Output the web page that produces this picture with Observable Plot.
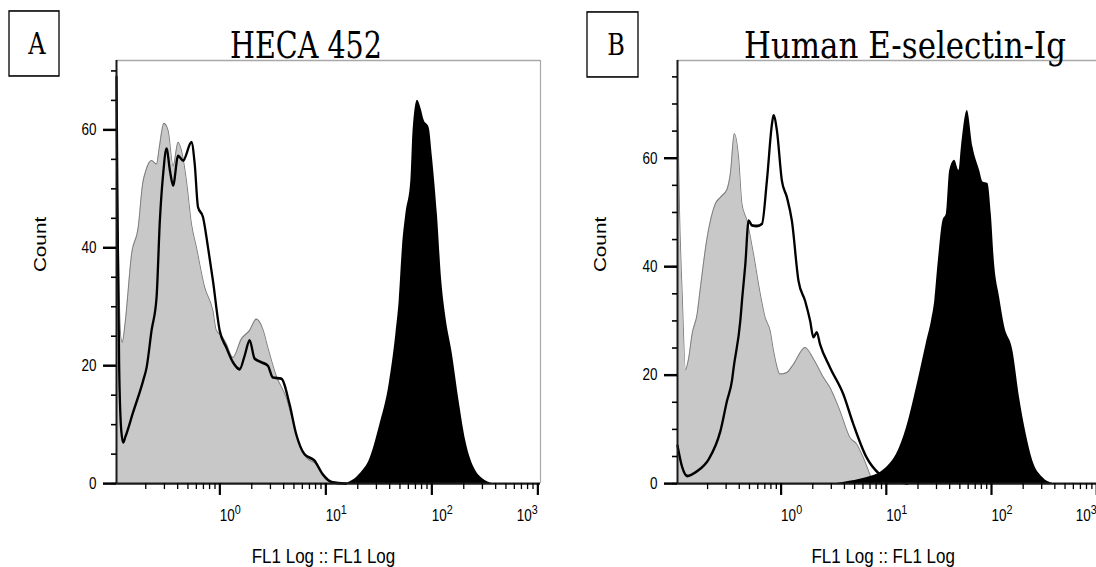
<!DOCTYPE html>
<html><head><meta charset="utf-8">
<script src="https://cdn.jsdelivr.net/npm/d3@7"></script>
<script src="https://cdn.jsdelivr.net/npm/@observablehq/plot@0.6"></script>
<style>
html,body{margin:0;padding:0;background:#fff;overflow:hidden;width:1096px;height:567px;}
#wrap{position:absolute;left:0;top:0;width:1096px;height:465px;transform:scaleY(1.2194);transform-origin:0 0;}
#pa,#pb{position:absolute;top:0;width:560px;height:465px;}
#pa{left:0;} #pb{left:560px;}
#wrap svg{max-width:none !important;}
#overlay{position:absolute;left:0;top:0;}
</style></head><body>
<div id="wrap"><div id="pa"></div><div id="pb"></div><svg id="overlay" width="1096" height="465"></svg></div>
<script>
// ---- text ----
const panelLetters = ["A", "B"];
const panelTitles = ["HECA 452", "Human E-selectin-Ig"];
const xLabel = "FL1 Log :: FL1 Log";
const yLabel = "Count";
const yTickValues = [0, 20, 40, 60];
const xMajorTicks = [1, 10, 100];
const xLastTick = [1000];

// ---- Panel A: HECA 452 (x = log10 FL1, y = count) ----
const hecaIsotypeLog = [-0.975,-0.965,-0.95,-0.935,-0.92,-0.895,-0.832,-0.77,-0.729,-0.698,-0.644,-0.597,-0.573,-0.528,-0.488,-0.441,-0.394,-0.362,-0.315,-0.268,-0.221,-0.143,-0.065,-0.033,0.02,0.061,0.123,0.202,0.281,0.344,0.406,0.453,0.532,0.626,0.72,0.814,0.908,1.002,1.127];
const hecaIsotypeCount = [69,50,33,25,24,27,39,43.5,50.8,53.1,54.8,54.2,56.8,61.1,59.9,53.9,57.9,56.5,51.4,44.1,40.1,33.3,29.3,26,25,23.7,21.4,24.5,26,27.9,26.2,23.1,18.3,14.6,8.4,4.5,3.3,0.8,0];
const hecaStainLog = [-0.975,-0.965,-0.95,-0.93,-0.912,-0.89,-0.82,-0.723,-0.691,-0.644,-0.597,-0.566,-0.535,-0.503,-0.47,-0.441,-0.394,-0.347,-0.268,-0.237,-0.206,-0.159,-0.112,-0.065,-0.002,0.061,0.123,0.187,0.234,0.281,0.328,0.391,0.453,0.5,0.579,0.657,0.72,0.798,0.892,0.97,1.064,1.19];
const hecaStainCount = [69,45,20,9,7,8,12,17.5,19.7,26,31.6,44.6,52.5,56.8,53,50.6,55.6,54.8,57.9,54.2,46.9,45.2,40.1,34.4,26,23.1,20.6,19.4,21.7,24.3,21.2,20.6,20,18,17.8,13.5,8.4,5,3.9,1.6,0.2,0];
const hecaPositiveLog = [1.19,1.25,1.33,1.409,1.504,1.598,1.661,1.692,1.723,1.755,1.802,1.823,1.864,1.9,1.927,1.974,2.005,2.052,2.093,2.13,2.193,2.256,2.319,2.413,2.48,2.569];
const hecaPositiveCount = [0,0.5,1.8,3.9,9.6,16.9,25.4,31,40.1,45.7,51.4,59.9,65,63.5,61.6,60.4,55.4,45.7,34.4,28.5,22,14.1,7.3,2.2,0.8,0];

// ---- Panel B: Human E-selectin-Ig ----
const eselIsotypeLog = [-0.985,-0.965,-0.94,-0.909,-0.88,-0.846,-0.798,-0.767,-0.703,-0.625,-0.577,-0.514,-0.483,-0.445,-0.404,-0.372,-0.324,-0.262,-0.198,-0.151,-0.104,-0.072,-0.009,0.055,0.117,0.228,0.307,0.402,0.465,0.56,0.655,0.718,0.781,0.844,0.876,0.92];
const eselIsotypeCount = [72,50,35,21,23,27.6,31.3,36.2,45.4,51.6,52.8,54.3,57.1,64.5,60.2,51.6,48.5,42.3,35,30.6,28.2,24.5,20.2,20.5,22,25.1,23,19.6,17.7,13.4,8.5,7.3,4.8,1.7,0.2,0];
const eselStainLog = [-0.985,-0.94,-0.893,-0.798,-0.688,-0.577,-0.514,-0.467,-0.451,-0.388,-0.372,-0.34,-0.309,-0.277,-0.23,-0.182,-0.135,-0.087,-0.072,-0.04,0.007,0.055,0.102,0.165,0.228,0.276,0.307,0.339,0.37,0.465,0.591,0.686,0.813,0.923,1.003,1.1,1.2];
const eselStainCount = [7,3,1.4,2.3,4.5,9.7,15.3,19,21.4,30,33.7,40.5,48.5,47.6,47.5,47.9,55.9,66.3,67.9,65.1,55.9,52.8,48.5,37.4,33.7,30,27,27.9,25.7,21.4,16.5,11,4.8,2,1.1,0.5,0];
const eselPositiveLog = [0.529,0.65,0.75,0.85,0.939,1.02,1.097,1.192,1.287,1.382,1.43,1.461,1.492,1.539,1.571,1.603,1.65,1.691,1.714,1.77,1.824,1.887,1.918,1.966,1.998,2.029,2.077,2.124,2.203,2.266,2.33,2.392,2.487,2.582];
const eselPositiveCount = [0,0.4,0.8,1.3,2,3.3,5.4,10.3,17.7,26,30,33.7,40.5,48.5,49.7,57.7,59.6,57.7,62,68.8,62,57.7,55.6,55.3,49.7,40.5,34.3,29,24.5,15.9,9.1,4.2,1.1,0];

const rows = (logs, counts) => logs.map((e, i) => ({fl1: 10 ** e, count: counts[i]}));

function panel(cfg) {
  const iso = rows(cfg.isoLog, cfg.isoCount);
  const stain = rows(cfg.stainLog, cfg.stainCount);
  const pos = rows(cfg.posLog, cfg.posCount);
  const x0 = 10 ** cfg.xDom[0], x1 = 10 ** cfg.xDom[1];
  const minor = [];
  for (let k = -1; k <= 2; k++) for (let m = 2; m <= 9; m++) { const v = m * 10 ** k; if (v > x0 && v < x1) minor.push(v); }
  const fmt = d => `10^${Math.round(Math.log10(d))}`;
  const svg = Plot.plot({
    width: 560, height: 465,
    marginLeft: cfg.mLeft, marginRight: cfg.mRight, marginTop: 49.2, marginBottom: 68.9,
    x: {type: "log", domain: [x0, x1]},
    y: {domain: [0, cfg.yMax]},
    style: {background: "transparent", color: "#000", fontFamily: "'Liberation Sans', Arial, sans-serif", fontSize: "13.5px", maxWidth: "none"},
    marks: [
      Plot.areaY(iso, {x: "fl1", y: "count", fill: "#c8c8c8", curve: "monotone-x"}),
      Plot.lineY(iso, {x: "fl1", y: "count", stroke: "#7a7a7a", strokeWidth: 0.9, curve: "monotone-x"}),
      Plot.areaY(pos, {x: "fl1", y: "count", fill: "#000", curve: "monotone-x"}),
      Plot.lineY(stain, {x: "fl1", y: "count", stroke: "#000", strokeWidth: 2.3, curve: "monotone-x"}),
      Plot.ruleY([cfg.yMax], {stroke: "#a8a8a8", strokeWidth: 1.2}),
      Plot.ruleX([x1], {stroke: "#a8a8a8", strokeWidth: 1.2}),
      Plot.ruleX([x0], {stroke: "#1a1a1a", strokeWidth: 2}),
      Plot.ruleY([0], {stroke: "#1a1a1a", strokeWidth: 1.7}),
      Plot.axisY({ticks: d3.range(0, cfg.yMax, 5), tickSize: 5, tickFormat: () => "", strokeWidth: 1.3, label: null}),
      Plot.axisY({ticks: yTickValues, tickSize: 13, tickPadding: 7, strokeWidth: 2, label: null}),
      Plot.axisX({ticks: minor, tickSize: 5, tickFormat: () => "", strokeWidth: 1.3, label: null}),
      Plot.axisX({ticks: xMajorTicks, tickSize: 9.8, tickPadding: 11, strokeWidth: 2.2, textAnchor: "start", tickFormat: fmt, label: null}),
      Plot.axisX({ticks: xLastTick, tickSize: 9.8, tickPadding: 11, strokeWidth: 2.2, textAnchor: "end", tickFormat: fmt, label: null}),
      Plot.text([yLabel], {text: d => d, frameAnchor: "left", dx: cfg.yLabelDx, rotate: -90, fontSize: 17}),
      Plot.text([xLabel], {text: d => d, frameAnchor: "bottom", dy: 60, dx: -5, lineAnchor: "middle", fontSize: 17})
    ]
  });
  d3.select(svg).selectAll("text").each(function () {
    const m = /^10\^(-?\d+)$/.exec(this.textContent);
    if (m) {
      const s = d3.select(this);
      s.text("10");
      s.append("tspan").attr("dy", "-0.5em").attr("font-size", "0.8em").text(m[1]);
    }
  });
  return svg;
}

document.getElementById("pa").append(panel({
  isoLog: hecaIsotypeLog, isoCount: hecaIsotypeCount,
  stainLog: hecaStainLog, stainCount: hecaStainCount,
  posLog: hecaPositiveLog, posCount: hecaPositiveCount,
  xDom: [-0.975, 3.025], yMax: 71.75, mLeft: 116, mRight: 20, yLabelDx: -76
}));
document.getElementById("pb").append(panel({
  isoLog: eselIsotypeLog, isoCount: eselIsotypeCount,
  stainLog: eselStainLog, stainCount: eselStainCount,
  posLog: eselPositiveLog, posCount: eselPositiveCount,
  xDom: [-0.985, 3.02], yMax: 78, mLeft: 117, mRight: 21.7, yLabelDx: -77
}));

// ---- panel letters in boxes and titles ----
const ov = d3.select("#overlay");
const boxes = [{x: 9, y: 9.0, w: 50, h: 53.3, lx: 37, ly: 44.3}, {x: 587, y: 9.8, w: 51, h: 53.3, lx: 616, ly: 45.5}];
boxes.forEach((b, i) => {
  ov.append("rect").attr("x", b.x).attr("y", b.y).attr("width", b.w).attr("height", b.h)
    .attr("fill", "none").attr("stroke", "#000").attr("stroke-width", 1.3);
  ov.append("text").attr("x", b.lx).attr("y", b.ly).attr("text-anchor", "middle")
    .attr("font-family", "'DejaVu Serif', serif").attr("font-size", 24).text(panelLetters[i]);
});
const titlePos = [{cx: 306, w: 152}, {cx: 905, w: 322}];
titlePos.forEach((t, i) => {
  ov.append("text").attr("x", t.cx - t.w / 2).attr("y", 47.6)
    .attr("font-family", "'DejaVu Serif', serif").attr("font-size", 30)
    .attr("textLength", t.w).attr("lengthAdjust", "spacingAndGlyphs").text(panelTitles[i]);
});
</script>
</body></html>
